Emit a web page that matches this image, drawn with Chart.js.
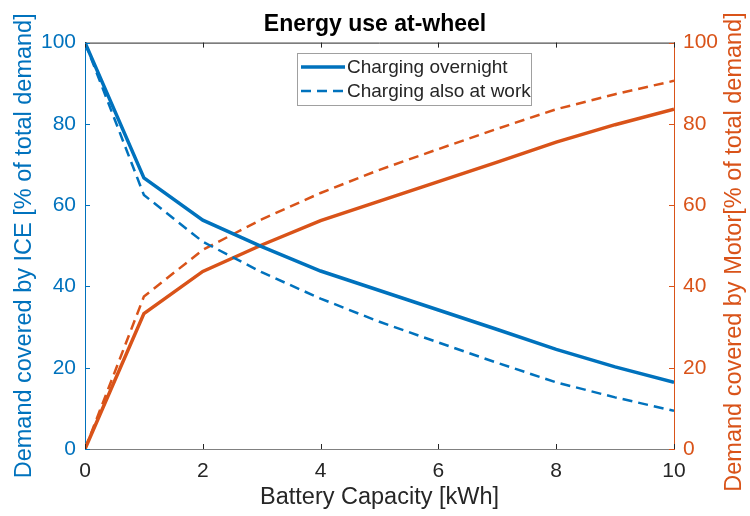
<!DOCTYPE html>
<html>
<head>
<meta charset="utf-8">
<script src="https://cdn.jsdelivr.net/npm/chart.js@4.4.0/dist/chart.umd.min.js"></script>
<style>
  html, body { margin: 0; padding: 0; background: #fff; }
  #wrap { width: 750px; height: 516px; }
</style>
</head>
<body>
<div id="wrap"><canvas id="chart"></canvas></div>
<script>
// Battery capacity [kWh]
const capacity = [0, 1, 2, 3, 4, 5, 6, 7, 8, 9, 10];
// Demand covered by ICE [%]
const iceOvernight = [100, 66.7, 56.3, 49.8, 43.8, 39.0, 34.2, 29.4, 24.5, 20.2, 16.4];
const iceAtWork = [100, 62.5, 51.0, 43.5, 37.0, 31.3, 26.2, 21.2, 16.4, 12.7, 9.4];
// Demand covered by motor [%]
const motorOvernight = [0, 33.3, 43.7, 50.2, 56.2, 61.0, 65.8, 70.6, 75.5, 79.8, 83.6];
const motorAtWork = [0, 37.5, 49.0, 56.5, 63.0, 68.7, 73.8, 78.8, 83.6, 87.3, 90.6];
const yTicks = [0, 20, 40, 60, 80, 100];
const xTicks = [0, 2, 4, 6, 8, 10];

const BLUE = "#0072BD";
const ORANGE = "#D95319";
const DARK = "#262626";
const FONT = "'Liberation Sans', Arial, sans-serif";
const RIGHT_TITLE = "Demand covered by Motor[% of total demand]";

const toPoints = (ys) => ys.map((y, i) => ({ x: capacity[i], y }));

// inward ticks, top box edge, right title and the in-plot legend
const decorations = {
  id: "decorations",
  afterDraw(chart) {
    const { ctx, chartArea: a, scales } = chart;
    const len = 5;
    ctx.save();
    ctx.lineWidth = 1;
    // top border
    ctx.strokeStyle = DARK;
    ctx.beginPath();
    ctx.moveTo(a.left, a.top + 0.5);
    ctx.lineTo(a.right, a.top + 0.5);
    ctx.stroke();
    // x ticks top and bottom
    xTicks.forEach((v) => {
      const px = Math.round(scales.x.getPixelForValue(v)) + 0.5;
      ctx.beginPath();
      ctx.moveTo(px, a.bottom);
      ctx.lineTo(px, a.bottom - len);
      ctx.moveTo(px, a.top);
      ctx.lineTo(px, a.top + len);
      ctx.stroke();
    });
    // left ticks
    ctx.strokeStyle = BLUE;
    yTicks.forEach((v) => {
      const py = Math.round(scales.y.getPixelForValue(v)) + 0.5;
      ctx.beginPath();
      ctx.moveTo(a.left, py);
      ctx.lineTo(a.left + len, py);
      ctx.stroke();
    });
    // right ticks
    ctx.strokeStyle = ORANGE;
    yTicks.forEach((v) => {
      const py = Math.round(scales.y2.getPixelForValue(v)) + 0.5;
      ctx.beginPath();
      ctx.moveTo(a.right, py);
      ctx.lineTo(a.right - len, py);
      ctx.stroke();
    });

    // right axis title, reading bottom to top like the left one
    ctx.save();
    ctx.translate(735, 252);
    ctx.rotate(-Math.PI / 2);
    ctx.font = "23.5px " + FONT;
    ctx.fillStyle = ORANGE;
    ctx.textAlign = "center";
    ctx.textBaseline = "middle";
    ctx.fillText(RIGHT_TITLE, 0, 0);
    ctx.restore();

    // legend box
    const bx = 297, by = 53, bw = 234, bh = 52;
    ctx.fillStyle = "#fff";
    ctx.fillRect(bx, by, bw, bh);
    ctx.strokeStyle = "#a0a0a0";
    ctx.lineWidth = 1;
    ctx.strokeRect(bx + 0.5, by + 0.5, bw, bh);
    const items = chart.data.datasets.filter((d) => d.inLegend);
    ctx.font = "19px " + FONT;
    ctx.textBaseline = "middle";
    items.forEach((d, i) => {
      const y = by + 14 + i * 24;
      ctx.strokeStyle = d.borderColor;
      ctx.lineWidth = d.borderWidth;
      ctx.setLineDash(d.borderDash || []);
      ctx.beginPath();
      ctx.moveTo(bx + 4, y);
      ctx.lineTo(bx + 48, y);
      ctx.stroke();
      ctx.setLineDash([]);
      ctx.fillStyle = DARK;
      ctx.fillText(d.label, bx + 50, y + 1);
    });
    ctx.restore();
  },
};

new Chart(document.getElementById("chart"), {
  type: "line",
  data: {
    datasets: [
      {
        label: "Charging overnight",
        data: toPoints(iceOvernight),
        yAxisID: "y",
        borderColor: BLUE,
        borderWidth: 3.5,
        inLegend: true,
      },
      {
        label: "Charging also at work",
        data: toPoints(iceAtWork),
        yAxisID: "y",
        borderColor: BLUE,
        borderWidth: 2.5,
        borderDash: [10, 6],
        inLegend: true,
      },
      {
        label: "Motor overnight",
        data: toPoints(motorOvernight),
        yAxisID: "y2",
        borderColor: ORANGE,
        borderWidth: 3.5,
      },
      {
        label: "Motor also at work",
        data: toPoints(motorAtWork),
        yAxisID: "y2",
        borderColor: ORANGE,
        borderWidth: 2.5,
        borderDash: [10, 6],
      },
    ],
  },
  options: {
    responsive: true,
    maintainAspectRatio: false,
    animation: false,
    elements: { point: { radius: 0 }, line: { tension: 0 } },
    layout: { padding: 0 },
    plugins: {
      legend: { display: false },
      tooltip: { enabled: false },
      title: {
        display: true,
        text: "Energy use at-wheel",
        color: "#000",
        font: { family: FONT, size: 23, weight: "bold" },
        padding: { top: 11, bottom: 4 },
      },
    },
    scales: {
      x: {
        type: "linear",
        min: 0,
        max: 10,
        afterFit: (s) => { s.height = 67; },
        afterBuildTicks: (s) => { s.ticks = xTicks.map((v) => ({ value: v })); },
        grid: { display: false, drawTicks: false },
        border: { display: true, color: "#808080", width: 1 },
        ticks: { color: DARK, font: { family: FONT, size: 21 }, padding: 10, maxRotation: 0 },
        title: {
          display: true,
          text: "Battery Capacity [kWh]",
          color: DARK,
          font: { family: FONT, size: 23.5 },
          padding: { top: 0, bottom: 4.5 },
        },
      },
      y: {
        position: "left",
        min: 0,
        max: 100,
        afterFit: (s) => { s.width = 85; },
        afterBuildTicks: (s) => { s.ticks = yTicks.map((v) => ({ value: v })); },
        grid: { display: false, drawTicks: false },
        border: { display: true, color: BLUE, width: 1 },
        ticks: { color: BLUE, font: { family: FONT, size: 21 }, padding: 9 },
        title: {
          display: true,
          text: "Demand covered by ICE [% of total demand]",
          color: BLUE,
          font: { family: FONT, size: 23.5 },
          padding: { top: 10, bottom: 0 },
        },
      },
      y2: {
        position: "right",
        min: 0,
        max: 100,
        afterFit: (s) => { s.width = 76; },
        afterBuildTicks: (s) => { s.ticks = yTicks.map((v) => ({ value: v })); },
        grid: { display: false, drawTicks: false },
        border: { display: true, color: ORANGE, width: 1 },
        ticks: { color: ORANGE, font: { family: FONT, size: 21 }, padding: 9 },
        title: { display: false },
      },
    },
  },
  plugins: [decorations],
});
</script>
</body>
</html>
